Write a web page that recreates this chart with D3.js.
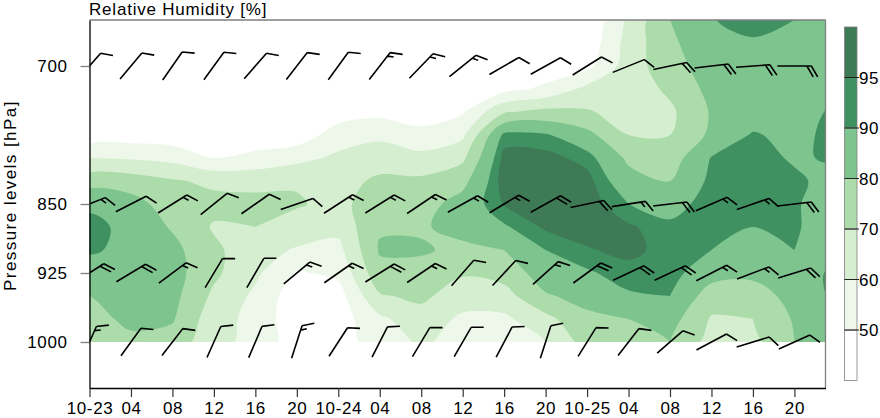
<!DOCTYPE html>
<html>
<head>
<meta charset="utf-8">
<script src="https://cdn.jsdelivr.net/npm/d3@7"></script>
<style>
  body { margin: 0; background: #fff; }
  text { font-family: "Liberation Sans", Arial, Helvetica, sans-serif; font-size: 17px; letter-spacing: 0.6px; fill: #000; }
</style>
</head>
<body>
<svg id="chart" width="880" height="418"></svg>
<script>
// hours since 10-23 00:00 for the RH grid columns
const hours = [0, 4, 8, 12, 16, 20, 24, 28, 32, 36, 40, 44, 48, 52, 56, 60, 64, 68, 72];
// pressure levels (rows of the grid, top to bottom)
const levels = [650, 675, 700, 725, 750, 775, 800, 825, 850, 875, 900, 925, 950, 975, 1000];

// relative humidity [%], one row per level, one value per hour column
const rh = [
  [30, 30, 30, 30, 30, 31, 32, 32, 33, 34, 35, 36, 40, 62, 80, 89.5, 93, 90, 86],
  [32, 32, 32, 32, 32, 33, 34, 34, 35, 37, 38, 40, 43, 64, 78, 87, 89, 86, 86],
  [35, 35, 35, 34, 34, 35, 37, 37, 38, 40, 42, 44, 47, 65, 76, 85, 85, 85, 86],
  [38, 38, 38, 37, 37, 38, 40, 41, 41, 44, 47, 52, 63, 64, 72, 83, 84, 84, 88],
  [41, 42, 41, 40, 40, 41, 45, 47, 45, 49, 69, 73, 71, 66, 68, 81, 84, 85, 92],
  [44, 45, 44, 42, 43, 44, 55, 58, 53, 58, 92, 91, 83, 70, 70, 82, 91, 87, 93],
  [60, 59, 57, 50, 53, 57, 62, 65, 63, 68, 97, 97, 93, 78, 75, 90.5, 93, 89, 91],
  [76, 75, 71, 68, 67, 69, 66, 72, 72, 77, 98, 98.5, 97, 84, 80, 92, 93, 91.5, 87],
  [88, 84, 75, 73, 73, 71, 67, 76, 76, 84, 95.5, 98.5, 98.5, 90, 87, 93, 93, 91, 85],
  [93, 87, 79, 69, 70, 66, 63, 79, 79, 83, 89, 96, 97.5, 96, 91.5, 92, 90, 91, 85],
  [91, 88, 83, 72, 64, 59, 57, 81, 81, 78, 80, 90, 94.5, 96.5, 93, 90, 85, 90, 87],
  [86, 87, 84, 72, 62, 49, 52, 77, 77, 71, 74, 85, 89, 93, 93, 84, 82, 85, 92],
  [80, 85, 83, 68, 58, 44, 46, 69, 72, 65, 66, 79, 83, 89, 90, 75, 76, 83, 92],
  [77, 82, 81, 64, 57, 43, 45, 58, 66, 58, 58, 67, 78, 80, 84, 69, 70, 81, 86],
  [76, 78, 76, 63, 57, 44, 47, 53, 62, 55, 55, 60, 74, 77, 80, 66, 67, 80, 83]
];

const rhLevels = [50, 60, 70, 80, 90, 95];
const rhColors = ["#edf8ea", "#d4eecf", "#acdcaa", "#7ec48e", "#3f9162", "#3e7a56"];

// wind barbs: staff direction (deg, clockwise from up) and speed
const barbHours = [0, 4, 8, 12, 16, 20, 24, 28, 32, 36, 40, 44, 48, 52, 56, 60, 64, 68];
const dir700 = [41, 40, 35, 36, 41, 38, 36, 38, 44, 51, 60, 61, 58, 68, 78, 83, 86, 90];
const spd700 = [10, 10, 10, 10, 10, 10, 10, 15, 15, 15, 10, 10, 10, 10, 20, 20, 20, 20];
const dir850 = [68, 63, 58, 51, 55, 71, 57, 58, 56, 61, 59, 61, 78, 81, 83, 67, 71, 83];
const spd850 = [15, 10, 15, 10, 10, 10, 15, 15, 15, 15, 15, 20, 20, 15, 20, 15, 15, 20];
const dir925 = [57, 59, 53, 31, 30, 50, 55, 58, 56, 41, 43, 48, 54, 65, 65, 63, 69, 73];
const spd925 = [20, 20, 15, 10, 10, 15, 15, 20, 15, 10, 10, 15, 20, 20, 20, 15, 15, 20];
const dir1000 = [24, 36, 38, 24, 23, 18, 33, 27, 31, 30, 28, 18, 32, 38, 49, 62, 73, 66];
const spd1000 = [15, 10, 10, 10, 10, 15, 10, 10, 10, 10, 10, 10, 10, 10, 10, 10, 10, 10];

const xTickHours = [0, 4, 8, 12, 16, 20, 24, 28, 32, 36, 40, 44, 48, 52, 56, 60, 64, 68];
const xTickLabels = ["10-23", "04", "08", "12", "16", "20", "10-24", "04", "08", "12", "16", "20", "10-25", "04", "08", "12", "16", "20"];
const yTicks = [700, 850, 925, 1000];

const margin = { top: 20, right: 54.5, bottom: 30, left: 89.5 };
const width = 880, height = 418;

const x = d3.scaleLinear().domain([0, 71]).range([margin.left, width - margin.right]);
const y = d3.scaleLinear().domain([650, 1050]).range([margin.top, height - margin.bottom]);

const svg = d3.select("#chart");
const defs = svg.append("defs");

defs.append("clipPath").attr("id", "dataClip")
  .append("rect")
  .attr("x", x(0)).attr("y", y(650))
  .attr("width", x(71) - x(0)).attr("height", y(1000) - y(650));

defs.append("clipPath").attr("id", "plotClip")
  .append("rect")
  .attr("x", x(0)).attr("y", y(650))
  .attr("width", x(71) - x(0)).attr("height", y(1050) - y(650));

// ---- filled contours
const nx = hours.length, ny = levels.length;
const grid = rh.flat();
const contours = d3.contours().size([nx, ny]).thresholds(rhLevels)(grid);

const dh = hours[1] - hours[0], dp = levels[1] - levels[0];
const gx = c => x(hours[0] + (c - 0.5) * dh);
const gy = c => y(levels[0] + (c - 0.5) * dp);

const ringLine = d3.line()
  .x(d => gx(d[0]))
  .y(d => gy(d[1]))
  .curve(d3.curveCatmullRomClosed.alpha(0.5));

svg.append("g")
  .attr("clip-path", "url(#dataClip)")
  .selectAll("path")
  .data(contours)
  .join("path")
  .attr("fill", (d, i) => rhColors[i])
  .attr("d", d => d.coordinates.map(poly =>
    poly.map(ring => ringLine(ring.slice(0, -1))).join("")).join(""));

// ---- wind barbs
const barbRows = [
  { p: 700, dir: dir700, spd: spd700 },
  { p: 850, dir: dir850, spd: spd850 },
  { p: 925, dir: dir925, spd: spd925 },
  { p: 1000, dir: dir1000, spd: spd1000 }
];

const staff = 34, feather = 12.5, gap = 4.5, featherTurn = 60;

function barbPath(cx, cy, bearing, speed) {
  const r = bearing * Math.PI / 180;
  const ux = Math.sin(r), uy = -Math.cos(r);
  const f = (bearing + featherTurn) * Math.PI / 180;
  const fx = Math.sin(f), fy = -Math.cos(f);
  const ex = cx + ux * staff / 2, ey = cy + uy * staff / 2;
  let d = `M${cx - ux * staff / 2},${cy - uy * staff / 2}L${ex},${ey}`;
  const full = Math.floor(speed / 10);
  const half = speed % 10 >= 5;
  let k = 0;
  for (let i = 0; i < full; i++, k++) {
    const px = ex - ux * gap * k, py = ey - uy * gap * k;
    d += `M${px},${py}L${px + fx * feather},${py + fy * feather}`;
  }
  if (half) {
    const px = ex - ux * gap * k, py = ey - uy * gap * k;
    d += `M${px},${py}L${px + fx * feather / 2},${py + fy * feather / 2}`;
  }
  return d;
}

const barbs = barbRows.flatMap(row => barbHours.map((h, i) => ({
  h, p: row.p, dir: row.dir[i], spd: row.spd[i]
})));

svg.append("g")
  .attr("clip-path", "url(#plotClip)")
  .selectAll("path")
  .data(barbs)
  .join("path")
  .attr("fill", "none")
  .attr("stroke", "#000")
  .attr("stroke-width", 1.6)
  .attr("d", d => barbPath(x(d.h), y(d.p), d.dir, d.spd));

// ---- frame
const x0 = x(0), x1 = x(71), y0 = y(650), y1 = y(1050);
svg.append("line").attr("x1", x0).attr("x2", x1).attr("y1", y0).attr("y2", y0)
  .attr("stroke", "#7f7f7f").attr("stroke-width", 1.3);
svg.append("line").attr("x1", x1).attr("x2", x1).attr("y1", y0).attr("y2", y1)
  .attr("stroke", "#7f7f7f").attr("stroke-width", 1.3);

// ---- axes
const xAxis = d3.axisBottom(x)
  .tickValues(xTickHours)
  .tickFormat((d, i) => xTickLabels[i])
  .tickSizeInner(9).tickSizeOuter(0).tickPadding(5);

const gX = svg.append("g").attr("transform", `translate(0,${y1})`).call(xAxis);
gX.select(".domain").attr("stroke", "#000").attr("stroke-width", 1.3);
gX.selectAll(".tick line").attr("stroke", "#333").attr("stroke-width", 1.2);
gX.selectAll(".tick text").attr("font-size", null).attr("font-family", null)
  .attr("fill", "#000").attr("dy", "0.71em");

const yAxis = d3.axisLeft(y)
  .tickValues(yTicks)
  .tickFormat(d3.format("d"))
  .tickSizeInner(9).tickSizeOuter(0).tickPadding(13);

const gY = svg.append("g").attr("transform", `translate(${x0},0)`).call(yAxis);
gY.select(".domain").attr("stroke", "#000").attr("stroke-width", 1.3);
gY.selectAll(".tick line").attr("stroke", "#7f7f7f").attr("stroke-width", 1.3);
gY.selectAll(".tick text").attr("font-size", null).attr("font-family", null).attr("fill", "#000");

// ---- titles
svg.append("text").attr("x", 89).attr("y", 14.5)
  .attr("textLength", 178).attr("lengthAdjust", "spacing")
  .text("Relative Humidity [%]");

svg.append("text")
  .attr("transform", `translate(15.5,196) rotate(-90)`)
  .attr("text-anchor", "middle")
  .attr("textLength", 190).attr("lengthAdjust", "spacing")
  .text("Pressure levels [hPa]");

// ---- colorbar
const cbX = 844.5, cbW = 12.5;
const cb = d3.scaleLinear().domain([0, rhLevels.length + 1]).range([380.5, 27]);
const cbColors = ["#ffffff"].concat(rhColors);

const gCb = svg.append("g");
gCb.selectAll("rect")
  .data(cbColors)
  .join("rect")
  .attr("x", cbX).attr("width", cbW)
  .attr("y", (d, i) => cb(i + 1))
  .attr("height", (d, i) => cb(i) - cb(i + 1))
  .attr("fill", d => d)
  .attr("stroke", "#7f7f7f").attr("stroke-width", 0.8);

gCb.selectAll("line")
  .data(rhLevels)
  .join("line")
  .attr("x1", cbX).attr("x2", cbX + cbW + 2)
  .attr("y1", (d, i) => cb(i + 1)).attr("y2", (d, i) => cb(i + 1))
  .attr("stroke", "#222").attr("stroke-width", 1);

gCb.selectAll("text")
  .data(rhLevels)
  .join("text")
  .attr("x", cbX + cbW + 2)
  .attr("y", (d, i) => cb(i + 1))
  .attr("dy", "0.36em")
  .text(d => d);
</script>
</body>
</html>
